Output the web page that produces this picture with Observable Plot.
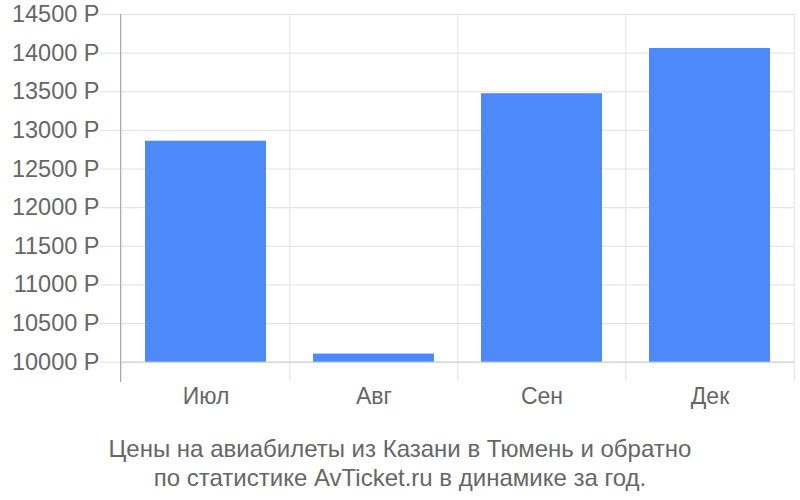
<!DOCTYPE html>
<html>
<head>
<meta charset="utf-8">
<script src="https://cdn.jsdelivr.net/npm/d3@7"></script>
<script src="https://cdn.jsdelivr.net/npm/@observablehq/plot@0.6"></script>
<style>
  body { margin: 0; background: #fff; font-family: "Liberation Sans", Arial, sans-serif; }
  #chart svg { display: block; }
  #caption { width: 800px; text-align: center; color: #666; font-size: 24px; line-height: 29px; margin-top: 14px; }
</style>
</head>
<body>
<div id="chart"></div>
<div id="caption">Цены на авиабилеты из Казани в Тюмень и обратно<br>по статистике AvTicket.ru в динамике за год.</div>
<script>
const months = ["Июл", "Авг", "Сен", "Дек"];
const prices = [12860, 10105, 13475, 14060];
const yTicks = [10000, 10500, 11000, 11500, 12000, 12500, 13000, 13500, 14000, 14500];
const currency = "Р";

const data = months.map((m, i) => ({month: m, price: prices[i]}));

const W = 800, H = 420, mL = 120, mR = 6, mT = 14, mB = 39;
const step = (W - mL - mR) / months.length;

const chart = Plot.plot({
  width: W, height: H,
  marginLeft: mL, marginRight: mR, marginTop: mT, marginBottom: mB,
  style: {fontFamily: "'Liberation Sans', Arial, sans-serif", background: "#fff"},
  x: {type: "band", domain: months, paddingInner: 0.28, paddingOuter: 0.14, axis: null, label: null},
  y: {domain: [9750, 14500], axis: null, label: null},
  marks: [
    Plot.gridY(yTicks, {stroke: "#e0e0e0", strokeOpacity: 1, strokeWidth: 1}),
    Plot.ruleX(months, {x: d => d, dx: -step / 2, stroke: "#e0e0e0", strokeWidth: 1}),
    Plot.ruleX([months[months.length - 1]], {x: d => d, dx: step / 2, stroke: "#e0e0e0", strokeWidth: 1}),
    Plot.ruleY([10000], {stroke: "#cccccc", strokeWidth: 1}),
    Plot.frame({anchor: "left", stroke: "#aaaaaa", strokeWidth: 1}),
    Plot.barY(data, {x: "month", y1: 10000, y2: "price", fill: "#4d89f9"}),
    Plot.axisY(yTicks, {
      label: null,
      tickSize: 20, tickPadding: 1, stroke: "#e0e0e0", strokeOpacity: 1,
      tickFormat: d => d + " " + currency, fontSize: 23.5, fill: "#666"
    }),
    Plot.axisX(months, {label: null, tickSize: 0, tickPadding: 6, fontSize: 23, fill: "#666"})
  ]
});
document.getElementById("chart").appendChild(chart);
</script>
</body>
</html>
